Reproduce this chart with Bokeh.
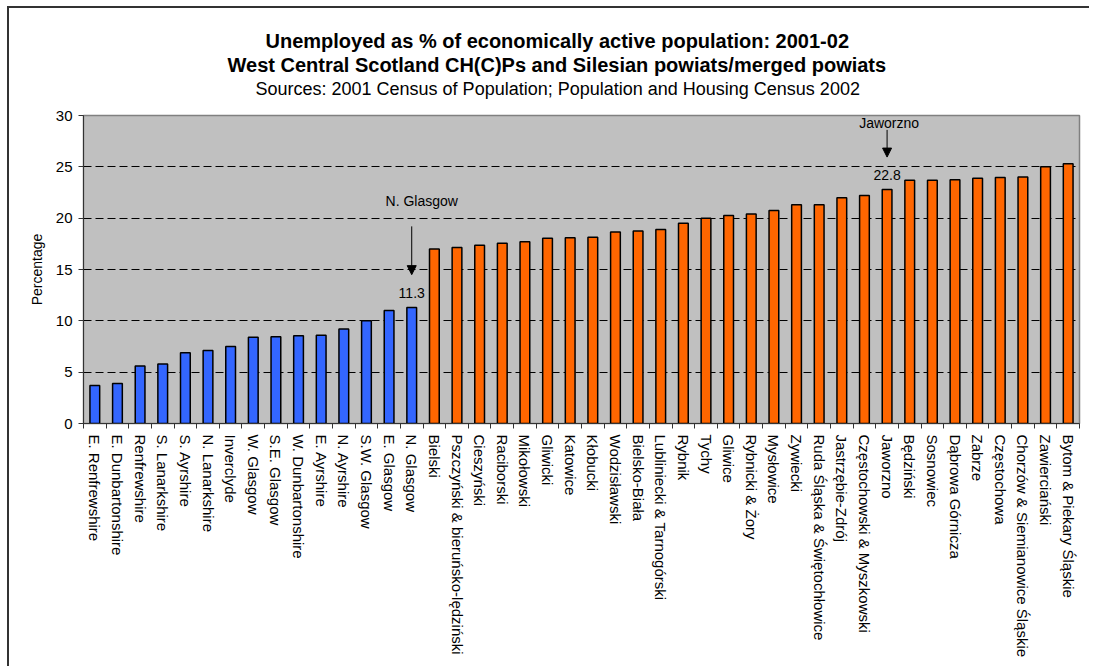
from bokeh.plotting import figure
from bokeh.models import (Range1d, LinearAxis, FixedTicker, Label, Arrow, NormalHead,
                          ColumnDataSource, Title)
from bokeh.embed import file_html
from bokeh.resources import INLINE

# ---- data ----
scot_names = ["E. Renfrewshire", "E. Dunbartonshire", "Renfrewshire", "S. Lanarkshire",
              "S. Ayrshire", "N. Lanarkshire", "Inverclyde", "W. Glasgow", "S.E. Glasgow",
              "W. Dunbartonshire", "E. Ayrshire", "N. Ayrshire", "S.W. Glasgow",
              "E. Glasgow", "N. Glasgow"]
scot_values = [3.7, 3.9, 5.6, 5.8, 6.9, 7.1, 7.5, 8.4, 8.45, 8.55, 8.6, 9.2, 10.0, 11.0, 11.3]

sil_names = ["Bielski", "Pszczyński & bieruńsko-lędziński", "Cieszyński", "Raciborski",
             "Mikołowski", "Gliwicki", "Katowice", "Kłobucki", "Wodzisławski",
             "Bielsko-Biała", "Lubliniecki & Tarnogórski", "Rybnik", "Tychy", "Gliwice",
             "Rybnicki & Żory", "Mysłowice", "Zywiecki", "Ruda Śląska & Świętochłowice",
             "Jastrzębie-Zdrój", "Częstochowski & Myszkowski", "Jaworzno", "Będziński",
             "Sosnowiec", "Dąbrowa Górnicza", "Zabrze", "Częstochowa",
             "Chorzów & Siemianowice Śląskie", "Zawierciański", "Bytom & Piekary Śląskie"]
sil_values = [17.0, 17.15, 17.35, 17.55, 17.7, 18.05, 18.1, 18.15, 18.65, 18.75, 18.9,
              19.5, 20.0, 20.25, 20.4, 20.75, 21.3, 21.3, 22.0, 22.2, 22.8, 23.7, 23.7,
              23.75, 23.9, 23.95, 24.0, 25.0, 25.3]

y_ticks = [0, 5, 10, 15, 20, 25, 30]
grid_ticks = [5, 10, 15, 20, 25]

title_lines = ["Unemployed as % of economically active population: 2001-02",
               "West Central Scotland CH(C)Ps and Silesian powiats/merged powiats",
               "Sources: 2001 Census of Population; Population and Housing Census 2002"]

callouts = [("N. Glasgow", "N. Glasgow", 11.3), ("Jaworzno", "Jaworzno", 22.8)]

FONT = "Liberation Sans"
names = scot_names + sil_names
n = len(names)
centers = [i + 0.5 for i in range(n)]

p = figure(width=1082, height=660, output_backend="svg", toolbar_location=None,
           x_range=Range1d(0, n), y_range=Range1d(0, 30), x_axis_type=None, title=None,
           min_border_left=74, min_border_top=107, min_border_right=12,
           min_border_bottom=245,
           background_fill_color="#C0C0C0", border_fill_color="white",
           styles={"border-left": "2px solid #333333", "border-top": "2px solid #333333",
                   "margin-left": "7px", "margin-top": "6px"})
p.outline_line_color = "#808080"
p.outline_line_width = 1.5

ns = len(scot_names)
src_s = ColumnDataSource(dict(x=centers[:ns], top=scot_values))
src_p = ColumnDataSource(dict(x=centers[ns:], top=sil_values))
p.vbar(x="x", top="top", width=0.43, source=src_s, fill_color="#3366FF",
       line_color="black", line_width=1.5)
p.vbar(x="x", top="top", width=0.43, source=src_p, fill_color="#FF6600",
       line_color="black", line_width=1.5)

# y axis
yax = p.yaxis[0]
yax.ticker = FixedTicker(ticks=y_ticks)
yax.axis_label = "Percentage"
yax.axis_label_text_font = FONT
yax.axis_label_text_font_size = "14px"
yax.axis_label_text_font_style = "normal"
yax.axis_label_text_color = "black"
yax.axis_label_standoff = 8
yax.major_label_text_font = FONT
yax.major_label_text_font_size = "15px"
yax.major_label_text_color = "black"
yax.major_label_standoff = 6
yax.major_tick_out = 5
yax.major_tick_in = 0
yax.minor_tick_line_color = None
yax.axis_line_color = "#333333"
yax.major_tick_line_color = "#333333"

p.ygrid.ticker = FixedTicker(ticks=grid_ticks)
p.ygrid.grid_line_color = "black"
p.ygrid.grid_line_dash = "8 4"
p.ygrid.grid_line_width = 1

# category axis: labels at centres, tick marks (minor) at category boundaries
cat_axis = LinearAxis(ticker=FixedTicker(ticks=centers, minor_ticks=list(range(n + 1))),
                      major_label_overrides={c: nm for c, nm in zip(centers, names)},
                      axis_line_color="#333333", major_tick_line_color=None,
                      minor_tick_line_color="#333333", minor_tick_out=5, minor_tick_in=0,
                      major_label_orientation="vertical",
                      major_label_text_font=FONT, major_label_text_font_size="15px",
                      major_label_text_color="black", major_label_standoff=5)
p.add_layout(cat_axis, "below")

# titles, stacked above the plot frame (first added = closest to frame)
# (text, size, style, standoff, offset from frame left)
title_specs = [(" ", "8px", "normal", 2.6, 0),
               (title_lines[2], "18px", "normal", 2.7, 172),
               (title_lines[1], "20px", "bold", 0, 144),
               (title_lines[0], "20px", "bold", 0, 182),
               (" ", "8px", "normal", 8.8, 0)]
for txt, fs, st, so, off in title_specs:
    p.add_layout(Title(text=txt, text_font=FONT, text_font_size=fs, text_font_style=st,
                       text_color="black", standoff=so, align="left", offset=off,
                       vertical_align="middle"), "above")

# callouts
offsets = {"N. Glasgow": (10, 21.7, 19.2, 14.5), "Jaworzno": (2, 29.25, 28.6, 25.95)}
for cat, label, val in callouts:
    idx = centers[names.index(cat)]
    dx, ty, a0, a1 = offsets[cat]
    p.add_layout(Label(x=idx, y=ty, x_offset=dx, text=label, text_align="center",
                       text_baseline="middle", text_font=FONT, text_font_size="14px",
                       text_color="black"))
    p.add_layout(Arrow(x_start=idx, y_start=a0, x_end=idx, y_end=a1, line_width=1,
                       line_color="black",
                       end=NormalHead(size=9, fill_color="black", line_color="black")))
    p.add_layout(Label(x=idx, y=val + 1.45, text=f"{val:.1f}", text_align="center",
                       text_baseline="middle", text_font=FONT, text_font_size="14px",
                       text_color="black"))

open("out.html", "w").write(file_html(p, INLINE))
